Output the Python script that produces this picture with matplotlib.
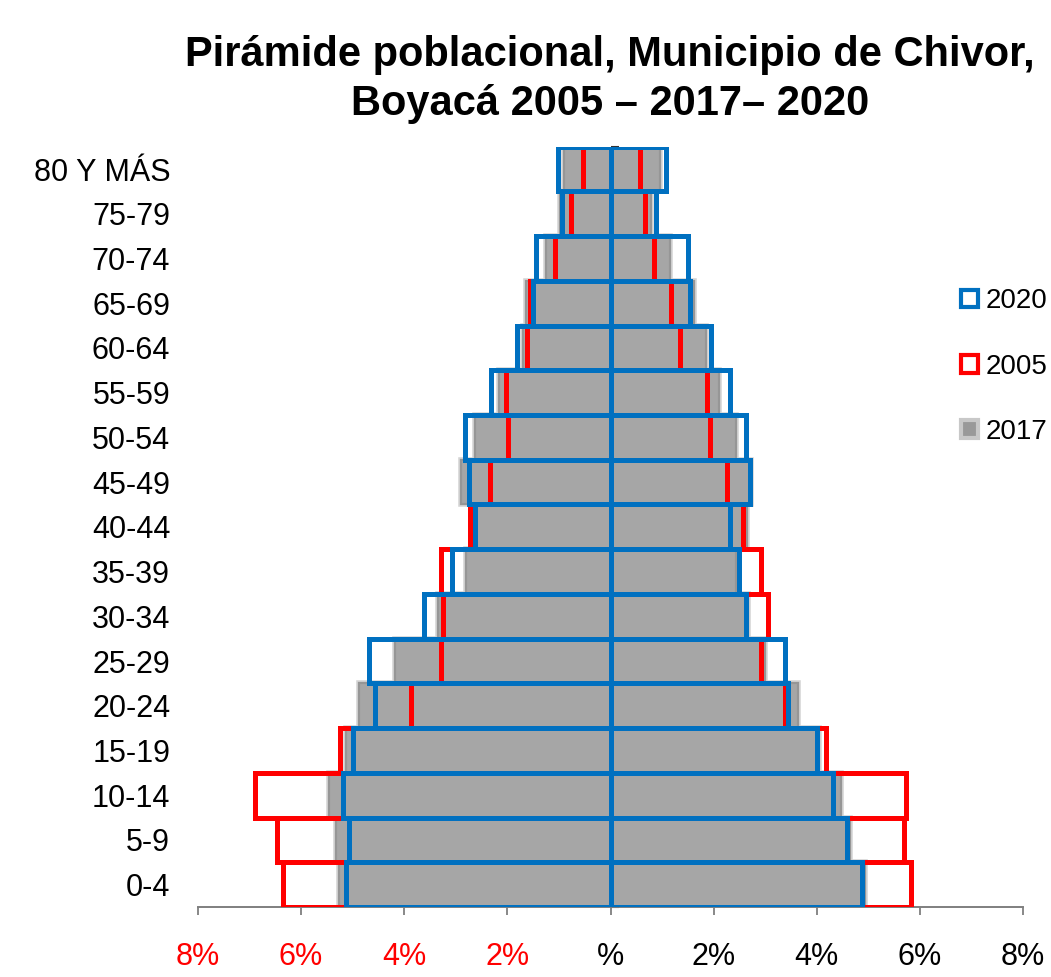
import matplotlib
matplotlib.use("Agg")
import matplotlib.pyplot as plt
from matplotlib import font_manager
from matplotlib.patches import Patch
import numpy as np

categories = ["0-4", "5-9", "10-14", "15-19", "20-24", "25-29", "30-34", "35-39",
              "40-44", "45-49", "50-54", "55-59", "60-64", "65-69", "70-74", "75-79",
              "80 Y MÁS"]

# left side (shown as negative) and right side percentages, bottom to top
left_2020 = [5.13, 5.07, 5.18, 5.00, 4.57, 4.69, 3.62, 3.07, 2.62, 2.75, 2.82, 2.32, 1.82, 1.51, 1.44, 0.94, 1.02]
left_2017 = [5.27, 5.33, 5.46, 5.13, 4.88, 4.18, 3.35, 2.80, 2.64, 2.90, 2.62, 2.17, 1.70, 1.63, 1.26, 0.97, 0.91]
left_2005 = [6.36, 6.46, 6.90, 5.25, 3.87, 3.28, 3.24, 3.28, 2.72, 2.34, 1.98, 2.03, 1.62, 1.57, 1.07, 0.76, 0.54]

right_2020 = [4.88, 4.58, 4.32, 4.01, 3.44, 3.38, 2.62, 2.50, 2.31, 2.70, 2.63, 2.31, 1.94, 1.55, 1.50, 0.89, 1.08]
right_2017 = [4.94, 4.65, 4.47, 4.04, 3.64, 3.00, 2.67, 2.44, 2.65, 2.72, 2.43, 2.11, 1.85, 1.61, 1.15, 0.78, 0.96]
right_2005 = [5.83, 5.69, 5.74, 4.17, 3.38, 2.91, 3.06, 2.91, 2.56, 2.25, 1.92, 1.88, 1.35, 1.17, 0.85, 0.67, 0.58]

xticks = [-8, -6, -4, -2, 0, 2, 4, 6, 8]
xtick_labels = ["8%", "6%", "4%", "2%", "%", "2%", "4%", "6%", "8%"]

names = {f.name for f in font_manager.fontManager.ttflist}
base = "Liberation Sans" if "Liberation Sans" in names else "DejaVu Sans"
plt.rcParams["font.family"] = [base, "DejaVu Sans"]

BLUE = "#0070C0"
RED = "#FF0000"
GRAY = "#A6A6A6"

fig = plt.figure(figsize=(10.51, 9.77), dpi=100)
ax = fig.add_axes([198 / 1051, 1 - 907 / 977, (1023 - 198) / 1051, (907 - 146.7) / 977])

y = np.arange(len(categories))
lw = 3.6

# 2017 grey filled bars (with light shadow edge)
for vals, sgn in ((left_2017, -1), (right_2017, 1)):
    ax.barh(y, sgn * np.array(vals), height=1.0, color=GRAY, edgecolor="#D4D4D4",
            linewidth=4.0, zorder=1)
for vals, sgn in ((left_2017, -1), (right_2017, 1)):
    ax.barh(y, sgn * np.array(vals), height=1.0, color=GRAY, edgecolor="#969696",
            linewidth=1.6, zorder=2)

# 2005 red outlines
for vals, sgn in ((left_2005, -1), (right_2005, 1)):
    ax.barh(y, sgn * np.array(vals), height=1.0, facecolor="none", edgecolor=RED,
            linewidth=lw, zorder=3)

# 2020 blue outlines
for vals, sgn in ((left_2020, -1), (right_2020, 1)):
    ax.barh(y, sgn * np.array(vals), height=1.0, facecolor="none", edgecolor=BLUE,
            linewidth=lw, zorder=4)

ax.set_xlim(-8, 8)
ax.set_ylim(-0.5, len(categories) - 0.5)

for s in ("top", "right", "left"):
    ax.spines[s].set_visible(False)
ax.spines["bottom"].set_color("#7F7F7F")
ax.spines["bottom"].set_linewidth(1.4)

ax.set_xticks(xticks)
ax.set_xticklabels(xtick_labels, fontsize=22)
for lab, v in zip(ax.get_xticklabels(), xticks):
    lab.set_color(RED if v < 0 else "black")
ax.tick_params(axis="x", direction="out", length=6, width=1.3, color="#7F7F7F", pad=19)

ax.set_yticks(y)
ax.set_yticklabels(categories, fontsize=22)
ax.tick_params(axis="y", length=0, pad=20)

# central vertical axis with ticks
sec = ax.secondary_yaxis(0.5)
sec.set_yticks(np.arange(-0.5, len(categories), 1.0))
sec.set_yticks(y, minor=True)
sec.tick_params(which="major", direction="out", length=6, width=1.5, color="#333333", labelleft=False)
sec.tick_params(which="minor", direction="in", length=6, width=1.3, color="black", labelleft=False)
sec.set_yticklabels([])
sec.spines["left"].set_color("#404040")
sec.spines["left"].set_linewidth(1.5)

fig.text(0.5805, 1 - 35 / 977,
         "Pirámide poblacional, Municipio de Chivor,\nBoyacá 2005 – 2017– 2020",
         ha="center", va="top", fontsize=30, fontweight="bold", linespacing=1.3)

handles = [Patch(facecolor="white", edgecolor=BLUE, linewidth=3),
           Patch(facecolor="white", edgecolor=RED, linewidth=3),
           Patch(facecolor="#999999", edgecolor="#C8C8C8", linewidth=3)]
fig.legend(handles, ["2020", "2005", "2017"], loc="upper left",
           bbox_to_anchor=(950 / 1051, 1 - 277 / 977), frameon=False,
           fontsize=20, handlelength=0.6, handleheight=0.6, handletextpad=0.3,
           labelspacing=1.42, borderaxespad=0)

fig.savefig("out.png", dpi=100)
